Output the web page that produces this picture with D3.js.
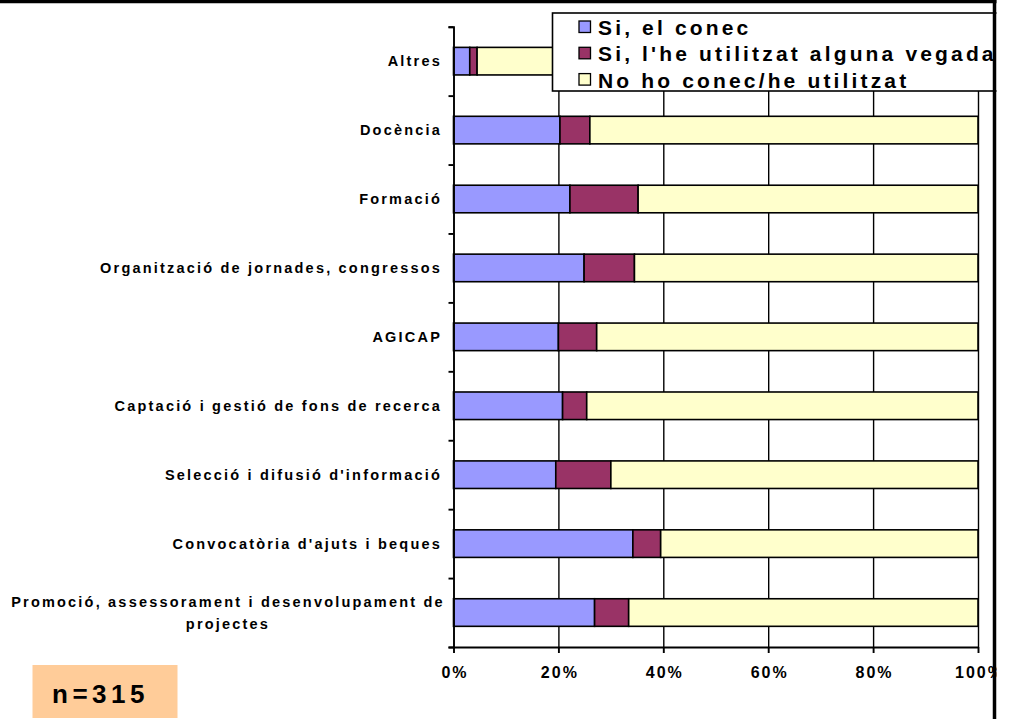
<!DOCTYPE html>
<html>
<head>
<meta charset="utf-8">
<script src="https://cdn.jsdelivr.net/npm/d3@7"></script>
<style>
html,body{margin:0;padding:0;background:#fff;}
svg{display:block;}
text{font-family:"Liberation Sans",Arial,sans-serif;font-weight:bold;fill:#000;}
</style>
</head>
<body>
<svg id="chart" width="1010" height="719"></svg>
<script>
const categories = [
  "Altres",
  "Docència",
  "Formació",
  "Organització de jornades, congressos",
  "AGICAP",
  "Captació i gestió de fons de recerca",
  "Selecció i difusió d'informació",
  "Convocatòria d'ajuts i beques",
  "Promoció, assessorament i desenvolupament de projectes"
];
const seriesNames = ["Si, el conec", "Si, l'he utilitzat alguna vegada", "No ho conec/he utilitzat"];
const siConec     = [3.1, 20.3, 22.2, 24.9, 20.0, 20.8, 19.5, 34.2, 26.9];
const siUtilitzat = [1.4,  5.7, 13.0,  9.6,  7.3,  4.6, 10.5,  5.3,  6.5];
const noConec     = [95.5, 74.0, 64.8, 65.5, 72.7, 74.6, 70.0, 60.5, 66.6];
const xTickValues = [0, 20, 40, 60, 80, 100];
const sampleLabel = "n=315";
const colors = ["#9999FF", "#993366", "#FFFFCC"];

const svg = d3.select("#chart");
const pLeft = 453.5, pRight = 978, pTop = 26.7, pBottom = 647;

const rows = categories.map((c, i) => ({cat: c, s0: siConec[i], s1: siUtilitzat[i], s2: noConec[i]}));
const stack = d3.stack().keys(["s0", "s1", "s2"]);
const stacked = stack(rows);

const x = d3.scaleLinear().domain([0, 100]).range([pLeft, pRight]);
const y = d3.scaleBand().domain(categories).range([pTop, pBottom]).paddingInner(0.6).paddingOuter(0.3);

// outer frame line (top)
svg.append("line").attr("x1", 0).attr("x2", 1010).attr("y1", 1.5).attr("y2", 1.5)
  .attr("stroke", "#000").attr("stroke-width", 3.5);

// gridlines
const grid = svg.append("g").attr("transform", `translate(0,${pBottom})`)
  .call(d3.axisBottom(x).tickValues(xTickValues.slice(1)).tickSize(-(pBottom - pTop)).tickFormat(""));
grid.select(".domain").remove();
grid.selectAll("line").attr("stroke", "#000").attr("stroke-width", 1.4);

// bars
svg.append("g").selectAll("g").data(stacked).join("g")
  .attr("fill", (d, i) => colors[i])
  .selectAll("rect").data(d => d).join("rect")
  .attr("x", d => x(d[0]))
  .attr("width", d => x(d[1]) - x(d[0]))
  .attr("y", d => y(d.data.cat))
  .attr("height", y.bandwidth())
  .attr("stroke", "#000").attr("stroke-width", 1.6);

// y axis with ticks at category boundaries
const yb = d3.scaleLinear().domain([0, categories.length]).range([pTop, pBottom]);
const yAxis = svg.append("g").attr("transform", `translate(${pLeft},0)`)
  .call(d3.axisLeft(yb).ticks(categories.length).tickSize(5).tickSizeOuter(5).tickFormat(""));
yAxis.selectAll("line, path").attr("stroke", "#000").attr("stroke-width", 1.9);

// y labels
const labelX = 442;
const labelFont = 14.5, labelSpacing = 2.2;
categories.forEach((c, i) => {
  const cy = y(c) + y.bandwidth() / 2;
  if (c.length > 40) {
    const words = c.split(" ");
    const l1 = words.slice(0, -1).join(" "), l2 = words[words.length - 1];
    const t = svg.append("text").attr("text-anchor", "middle").attr("font-size", labelFont).attr("letter-spacing", labelSpacing);
    t.append("tspan").attr("x", 228).attr("y", cy - 11).attr("dy", "0.35em").text(l1);
    t.append("tspan").attr("x", 228).attr("y", cy + 11).attr("dy", "0.35em").text(l2);
  } else {
    svg.append("text").attr("x", labelX).attr("y", cy).attr("dy", "0.35em")
      .attr("text-anchor", "end").attr("font-size", labelFont).attr("letter-spacing", labelSpacing).text(c);
  }
});

// x axis
const xAxis = svg.append("g").attr("transform", `translate(0,${pBottom})`)
  .call(d3.axisBottom(x).tickValues(xTickValues).tickSize(6).tickSizeOuter(0).tickPadding(14).tickFormat(d => d + "%"));
xAxis.selectAll("line, path").attr("stroke", "#000").attr("stroke-width", 1.9);
xAxis.selectAll("text").attr("font-size", 16).attr("letter-spacing", 2)
  .attr("font-family", "'Liberation Sans',Arial,sans-serif").attr("font-weight", "bold").attr("fill", "#000")
  .attr("dx", "0.06em");

// legend
const lg = svg.append("g");
lg.append("rect").attr("x", 552.5).attr("y", 13).attr("width", 460).attr("height", 78)
  .attr("fill", "#fff").attr("stroke", "#000").attr("stroke-width", 1.6);
seriesNames.forEach((s, i) => {
  const cy = 27 + i * 26.3;
  lg.append("rect").attr("x", 579).attr("y", cy - 6).attr("width", 11.5).attr("height", 11.5)
    .attr("fill", colors[i]).attr("stroke", "#000").attr("stroke-width", 1.3);
  lg.append("text").attr("x", 598).attr("y", cy + 8).attr("font-size", 21).attr("letter-spacing", 3.15).text(s);
});
// right frame drawn on top of legend
svg.append("rect").attr("x", 996.5).attr("y", 0).attr("width", 14).attr("height", 719).attr("fill", "#fff");
svg.append("line").attr("x1", 994.5).attr("x2", 994.5).attr("y1", 0).attr("y2", 719)
  .attr("stroke", "#000").attr("stroke-width", 3.5);

// n box
svg.append("rect").attr("x", 32.5).attr("y", 665).attr("width", 145).attr("height", 53).attr("fill", "#FFCC99");
svg.append("text").attr("x", 52).attr("y", 703).attr("font-size", 26).attr("letter-spacing", 4.5).text(sampleLabel);
</script>
</body>
</html>
